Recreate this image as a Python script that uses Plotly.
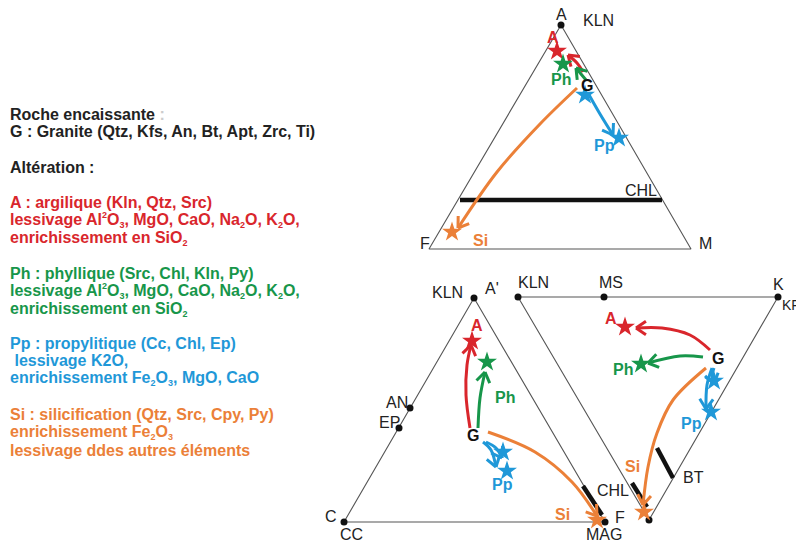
import math
import plotly.graph_objects as go

RED = "#d9262c"
GREEN = "#17964a"
BLUE = "#1f98d8"
ORANGE = "#eb8038"
GRAY = "#555555"


def sb(t):
    return "<sub><span style='font-size:9px'>" + t + "</span></sub>"


def sp(t):
    return "<sup><span style='font-size:9px'>" + t + "</span></sup>"


# ---- legend text (left block) ----
text_lines = [
    ("Roche encaissante <span style='color:#cccccc'>:</span>", "#222222", 114),
    ("G : Granite (Qtz, Kfs, An, Bt, Apt, Zrc, Ti)", "#222222", 131),
    ("Altération :", "#222222", 167),
    ("A : argilique (Kln, Qtz, Src)", RED, 202),
    ("lessivage Al" + sp("2") + "O" + sb("3") + ", MgO, CaO, Na" + sb("2") + "O, K" + sb("2") + "O,", RED, 220),
    ("enrichissement en SiO" + sb("2"), RED, 238),
    ("Ph : phyllique (Src, Chl, Kln, Py)", GREEN, 273),
    ("lessivage Al" + sp("2") + "O" + sb("3") + ", MgO, CaO, Na" + sb("2") + "O, K" + sb("2") + "O,", GREEN, 291),
    ("enrichissement en SiO" + sb("2"), GREEN, 309),
    ("Pp : propylitique (Cc, Chl, Ep)", BLUE, 343),
    (" lessivage K2O,", BLUE, 360),
    ("enrichissement Fe" + sb("2") + "O" + sb("3") + ", MgO, CaO", BLUE, 378),
    ("Si : silicification (Qtz, Src, Cpy, Py)", ORANGE, 414),
    ("enrichissement Fe" + sb("2") + "O" + sb("3"), ORANGE, 432),
    ("lessivage ddes autres éléments", ORANGE, 450),
]

# ---- triangle frames (pixel coordinates of the drawing) ----
tri_top_x = [561, 429, 691, 561]
tri_top_y = [25, 249, 249, 25]
tri_bl_x = [474, 344, 605, 474]
tri_bl_y = [298, 522, 522, 298]
tri_br_x = [518, 778, 649, 518]
tri_br_y = [297, 297, 520, 297]

# vertex / tie-point dots
dot_x = [561, 474, 410, 399, 344, 605, 518, 604, 778, 649]
dot_y = [25, 298, 408, 428, 522, 522, 297, 297, 297, 520]

# thick black mineral segments (CHL top, CHL bottom-left, CHL & BT bottom-right)
seg_x = [[460, 662], [583, 602], [632, 647], [657, 673]]
seg_y = [[200, 200], [486, 515], [483, 507], [448, 478]]

# vertex labels
vlab_text = ["A", "KLN", "CHL", "F", "M",
             "KLN", "A'", "AN", "EP", "C", "CC", "MAG", "CHL", "F",
             "KLN", "MS", "K", "BT"]
vlab_x = [561, 598, 641, 425, 705,
          447, 492, 397, 389, 331, 351, 604, 613, 620,
          533, 611, 778, 693]
vlab_y = [14, 20, 190, 243, 243,
          292, 288, 402, 422, 516, 534, 534, 490, 517,
          282, 282, 284, 477]
# label cut by the right edge of the picture
edge_label = "KFS"
edge_x = 782
edge_y = 306

# ---- alteration paths: (color, xs, ys) ----
paths = [
    # top triangle
    (RED, [583, 577, 568], [72, 63, 55]),
    (GREEN, [586, 581, 576], [80, 74, 68]),
    (BLUE, [588, 600, 613], [93, 114, 135]),
    (ORANGE, [577, 540, 497, 458], [88, 124, 172, 228]),
    # bottom-left triangle
    (RED, [470, 466, 467, 471], [428, 395, 365, 345]),
    (GREEN, [478, 480, 485], [428, 398, 372]),
    (BLUE, [483, 491, 496], [442, 450, 467]),
    (BLUE, [486, 496, 502], [442, 448, 458]),
    (ORANGE, [488, 535, 572, 597], [432, 452, 482, 516]),
    # bottom-right triangle
    (RED, [710, 690, 662, 636], [350, 335, 328, 328]),
    (GREEN, [703, 680, 648], [357, 356, 363]),
    (BLUE, [712, 707, 706], [368, 385, 409]),
    (BLUE, [714, 712, 714], [368, 376, 384]),
    (ORANGE, [706, 673, 657, 648, 643], [368, 400, 433, 467, 505]),
]

# stars
star_color = [RED, GREEN, BLUE, BLUE, ORANGE,
              RED, GREEN, BLUE, BLUE, ORANGE,
              RED, GREEN, BLUE, BLUE, ORANGE]
star_x = [557, 563, 585, 619, 452,
          472, 487, 503, 507, 597,
          625, 641, 714, 711, 644]
star_y = [51, 64, 95, 138, 232,
          341, 362, 452, 471, 520,
          327, 364, 381, 412, 512]

# path labels
plab_text = ["A", "Ph", "G", "Pp", "Si",
             "A", "Ph", "G", "Pp", "Si",
             "A", "Ph", "G", "Pp", "Si"]
plab_color = [RED, GREEN, "#111111", BLUE, ORANGE,
              RED, GREEN, "#111111", BLUE, ORANGE,
              RED, GREEN, "#111111", BLUE, ORANGE]
plab_x = [553, 561, 587, 604, 480,
          477, 505, 473, 502, 562,
          611, 623, 718, 691, 632]
plab_y = [37, 79, 85, 145, 240,
          325, 397, 435, 484, 514,
          318, 369, 358, 423, 466]

fig = go.Figure()

for tx, ty in [(tri_top_x, tri_top_y), (tri_bl_x, tri_bl_y), (tri_br_x, tri_br_y)]:
    fig.add_trace(go.Scatter(x=tx, y=ty, mode="lines",
                             line=dict(color=GRAY, width=1.1), hoverinfo="skip"))

for sx, sy in zip(seg_x, seg_y):
    fig.add_trace(go.Scatter(x=sx, y=sy, mode="lines",
                             line=dict(color="#111111", width=4.5), hoverinfo="skip"))

fig.add_trace(go.Scatter(x=dot_x, y=dot_y, mode="markers",
                         marker=dict(color="#111111", size=7), hoverinfo="skip"))


def arrow_head(xs, ys, length=12, ang=34):
    dx = xs[-1] - xs[-2]
    dy = ys[-1] - ys[-2]
    th = math.atan2(dy, dx)
    hx, hy = [], []
    for s in (1, -1):
        a = th + math.pi + s * math.radians(ang)
        hx += [xs[-1] + length * math.cos(a), xs[-1], None]
        hy += [ys[-1] + length * math.sin(a), ys[-1], None]
    return hx, hy


for col, xs, ys in paths:
    fig.add_trace(go.Scatter(x=xs, y=ys, mode="lines",
                             line=dict(color=col, width=3, shape="spline"),
                             hoverinfo="skip"))
    hx, hy = arrow_head(xs, ys)
    fig.add_trace(go.Scatter(x=hx, y=hy, mode="lines",
                             line=dict(color=col, width=3), hoverinfo="skip"))

fig.add_trace(go.Scatter(x=star_x, y=star_y, mode="markers",
                         marker=dict(symbol="star", size=15, color=star_color,
                                     line=dict(width=0)), hoverinfo="skip"))

# edge label as scatter text so it is simply clipped by the picture edge
fig.add_trace(go.Scatter(x=[edge_x], y=[edge_y], mode="text", text=[edge_label],
                         textposition="middle right", cliponaxis=False,
                         textfont=dict(family="Liberation Sans, Arial, sans-serif",
                                       size=14, color="#222222"),
                         hoverinfo="skip"))

FONT = "Liberation Sans, Arial, sans-serif"
annotations = []
for t, c, y in text_lines:
    annotations.append(dict(x=8, y=y, xref="x", yref="y", text="<b>" + t + "</b>",
                            showarrow=False, xanchor="left", yanchor="middle",
                            font=dict(family=FONT, size=16, color=c)))
for t, x, y in zip(vlab_text, vlab_x, vlab_y):
    annotations.append(dict(x=x, y=y, xref="x", yref="y", text=t, showarrow=False,
                            xanchor="center", yanchor="middle",
                            font=dict(family=FONT, size=16, color="#222222")))
for t, c, x, y in zip(plab_text, plab_color, plab_x, plab_y):
    annotations.append(dict(x=x, y=y, xref="x", yref="y", text="<b>" + t + "</b>",
                            showarrow=False, xanchor="center", yanchor="middle",
                            font=dict(family=FONT, size=16, color=c)))

# the page body has an 8px margin: the figure sits at (8, 8) in the window
fig.update_layout(
    width=796, height=534,
    margin=dict(l=0, r=0, t=0, b=0),
    paper_bgcolor="white", plot_bgcolor="white",
    showlegend=False,
    xaxis=dict(range=[8, 804], visible=False, fixedrange=True),
    yaxis=dict(range=[542, 8], visible=False, fixedrange=True),
    annotations=annotations,
)

fig.write_html("out.html", config={"displayModeBar": False})
